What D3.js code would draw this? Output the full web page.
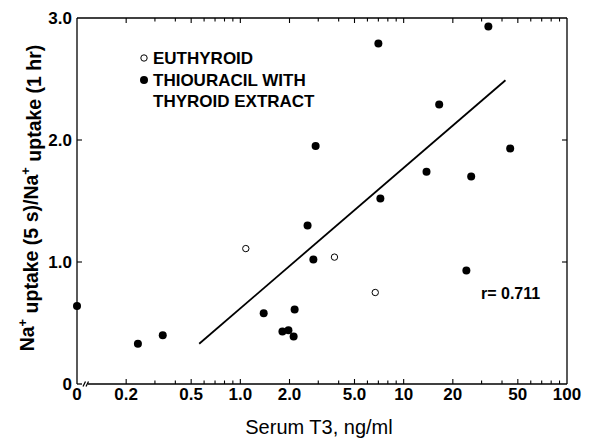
<!DOCTYPE html>
<html>
<head>
<meta charset="utf-8">
<script src="https://cdn.jsdelivr.net/npm/d3@7"></script>
<style>
  body { margin: 0; background: #fff; }
  svg { display: block; }
  text { font-family: "Liberation Sans", Arial, sans-serif; fill: #000; }
</style>
</head>
<body>
<svg id="chart" width="610" height="439"></svg>
<script>
// values
var euthyroidT3 = [1.08, 3.77, 6.7];
var euthyroidRatio = [1.11, 1.04, 0.75];

var treatedT3 = [0, 0.236, 0.335, 1.39, 1.81, 1.97, 2.12, 2.15, 2.58, 2.80, 2.89, 7.0, 7.2, 13.8, 16.5, 24.2, 25.9, 33, 44.9];
var treatedRatio = [0.64, 0.33, 0.40, 0.58, 0.43, 0.44, 0.39, 0.61, 1.30, 1.02, 1.95, 2.79, 1.52, 1.74, 2.29, 0.93, 1.70, 2.93, 1.93];

var fitT3 = [0.56, 42];
var fitRatio = [0.33, 2.49];

var xTickValues = [0, 0.2, 0.5, 1, 2, 5, 10, 20, 50, 100];
var xTickLabels = ['0', '0.2', '0.5', '1.0', '2.0', '5.0', '10', '20', '50', '100'];
var yTickValues = [0, 1, 2, 3];
var yTickLabels = ['0', '1.0', '2.0', '3.0'];

var mLeft = 77, mRight = 567, mTop = 18, mBottom = 384;

var svg = d3.select('#chart');

var x = d3.scaleLog().domain([0.1, 100]).range([mLeft, mRight]);
var y = d3.scaleLinear().domain([0, 3]).range([mBottom, mTop]);

// zero sits on the axis origin (broken log axis)
function xPos(v) { return v === 0 ? x(0.1) : x(v); }

var frame = svg.append('g').attr('stroke', '#000').attr('stroke-width', 1.3).attr('fill', 'none');
frame.append('line').attr('x1', mLeft).attr('x2', mLeft).attr('y1', mTop).attr('y2', mBottom);
frame.append('line').attr('x1', mRight).attr('x2', mRight).attr('y1', mTop).attr('y2', mBottom);
frame.append('line').attr('x1', mLeft).attr('x2', mRight).attr('y1', mTop).attr('y2', mTop);
// bottom axis with a break near zero
frame.append('line').attr('x1', mLeft).attr('x2', mLeft + 5).attr('y1', mBottom).attr('y2', mBottom);
frame.append('path').attr('d', 'M' + (mLeft + 6) + ',' + (mBottom + 2.5) + 'l2.5,-5 M' + (mLeft + 9) + ',' + (mBottom + 2.5) + 'l2.5,-5');
frame.append('line').attr('x1', mLeft + 11).attr('x2', mRight).attr('y1', mBottom).attr('y2', mBottom);

// x ticks, inward on bottom and top
var minor = x.ticks().filter(function(d) { return d >= 0.2; });
var major = xTickValues.filter(function(d) { return d > 0; });
var tk = svg.append('g').attr('stroke', '#000').attr('stroke-width', 1.1);
minor.forEach(function(d) {
  var len = major.indexOf(d) >= 0 ? 5 : 3.5;
  if (d < 100) {
    tk.append('line').attr('x1', x(d)).attr('x2', x(d)).attr('y1', mBottom).attr('y2', mBottom - len);
    tk.append('line').attr('x1', x(d)).attr('x2', x(d)).attr('y1', mTop).attr('y2', mTop + len);
  }
});
yTickValues.filter(function(d) { return d > 0 && d < 3; }).forEach(function(d) {
  tk.append('line').attr('x1', mLeft).attr('x2', mLeft + 5).attr('y1', y(d)).attr('y2', y(d));
  tk.append('line').attr('x1', mRight).attr('x2', mRight - 5).attr('y1', y(d)).attr('y2', y(d));
});

// tick labels
svg.append('g').selectAll('text')
  .data(xTickValues)
  .enter().append('text')
  .attr('x', function(d) { return xPos(d); })
  .attr('y', 400)
  .attr('text-anchor', 'middle')
  .style('font-size', '17px')
  .style('font-weight', 'bold')
  .text(function(d, i) { return xTickLabels[i]; });

svg.append('g').selectAll('text')
  .data(yTickValues)
  .enter().append('text')
  .attr('x', 72)
  .attr('y', function(d) { return y(d); })
  .attr('dy', '0.36em')
  .attr('text-anchor', 'end')
  .style('font-size', '17px')
  .style('font-weight', 'bold')
  .text(function(d, i) { return yTickLabels[i]; });

// axis titles
svg.append('text')
  .attr('x', 319).attr('y', 434)
  .attr('text-anchor', 'middle')
  .style('font-size', '20px')
  .text('Serum T3, ng/ml');

var yl = svg.append('text')
  .attr('transform', 'translate(34,198) rotate(-90)')
  .attr('text-anchor', 'middle')
  .style('font-size', '19.5px')
  .style('font-weight', 'bold');
yl.append('tspan').text('Na');
yl.append('tspan').attr('dy', '-0.55em').style('font-size', '13px').text('+');
yl.append('tspan').attr('dy', '0.55em').text(' uptake (5 s)/Na');
yl.append('tspan').attr('dy', '-0.55em').style('font-size', '13px').text('+');
yl.append('tspan').attr('dy', '0.55em').text(' uptake (1 hr)');

// regression line
var line = d3.line()
  .x(function(d) { return x(d[0]); })
  .y(function(d) { return y(d[1]); });
svg.append('path')
  .datum(d3.zip(fitT3, fitRatio))
  .attr('d', line)
  .attr('fill', 'none')
  .attr('stroke', '#000')
  .attr('stroke-width', 1.8);

// points
svg.append('g').selectAll('circle')
  .data(d3.zip(treatedT3, treatedRatio))
  .enter().append('circle')
  .attr('cx', function(d) { return xPos(d[0]); })
  .attr('cy', function(d) { return y(d[1]); })
  .attr('r', 4)
  .attr('fill', '#000');

svg.append('g').selectAll('circle')
  .data(d3.zip(euthyroidT3, euthyroidRatio))
  .enter().append('circle')
  .attr('cx', function(d) { return xPos(d[0]); })
  .attr('cy', function(d) { return y(d[1]); })
  .attr('r', 3.2)
  .attr('fill', '#fff')
  .attr('stroke', '#000')
  .attr('stroke-width', 1);

// legend
var lg = svg.append('g').style('font-size', '17px').style('font-weight', 'bold');
lg.append('circle').attr('cx', 144).attr('cy', 58).attr('r', 3.2).attr('fill', '#fff').attr('stroke', '#000');
lg.append('text').attr('x', 153).attr('y', 64).text('EUTHYROID');
lg.append('circle').attr('cx', 144).attr('cy', 80).attr('r', 4).attr('fill', '#000');
lg.append('text').attr('x', 153).attr('y', 86).text('THIOURACIL WITH');
lg.append('text').attr('x', 153).attr('y', 107).text('THYROID EXTRACT');

svg.append('text')
  .attr('x', 481).attr('y', 299)
  .style('font-size', '16px')
  .style('font-weight', 'bold')
  .text('r= 0.711');
</script>
</body>
</html>
